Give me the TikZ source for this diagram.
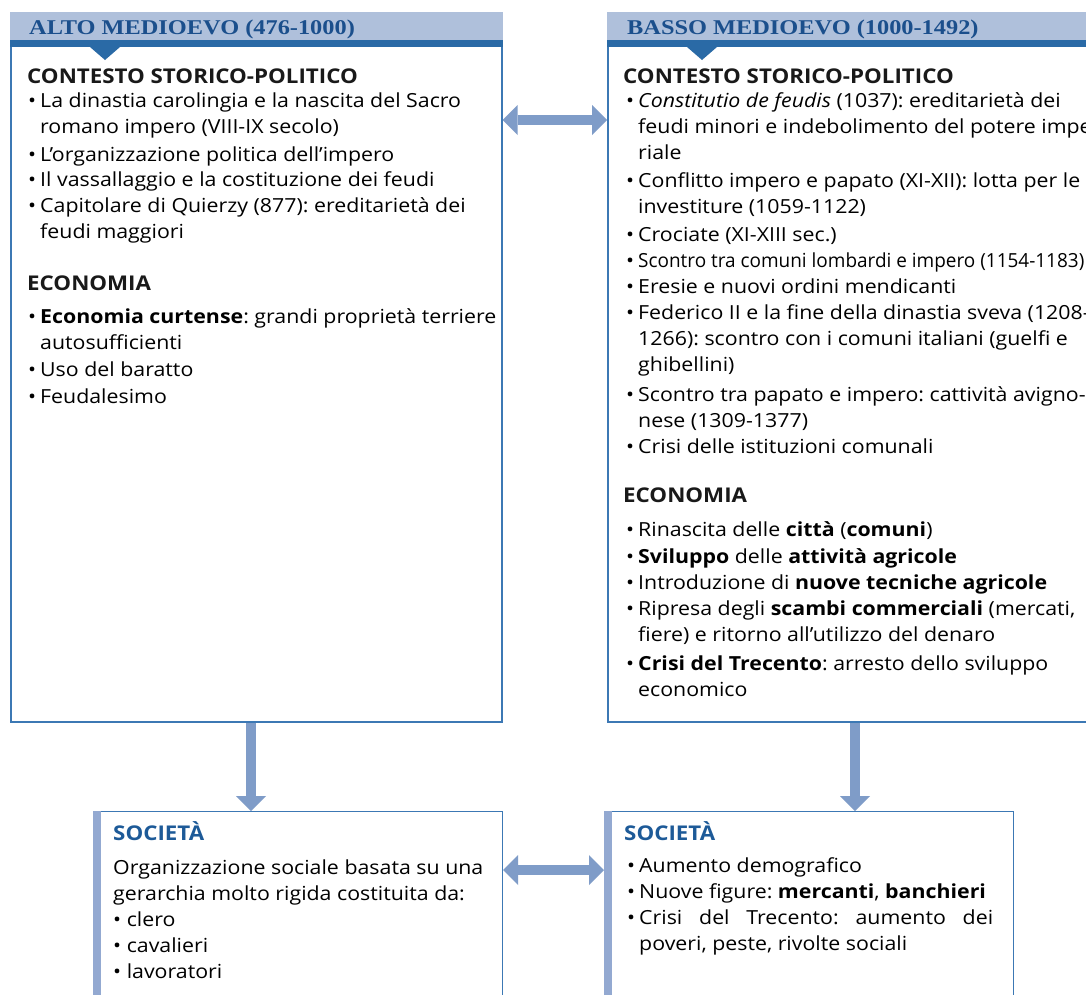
\documentclass[tikz,border=0pt]{standalone}
\usepackage{fontspec}
\setmainfont{Open Sans}[FakeStretch=1.1]
\newfontfamily\titlefont{Liberation Serif}[FakeStretch=1.16]
\usetikzlibrary{positioning, calc, arrows.meta}
\frenchspacing

\definecolor{hdrlight}{HTML}{AFC0DB}
\definecolor{hdrdark}{HTML}{2A6AA6}
\definecolor{titleblue}{HTML}{1B4F8C}
\definecolor{boxblue}{HTML}{3C78B4}
\definecolor{arrowblue}{HTML}{7F9CC8}
\definecolor{barblue}{HTML}{93A9D1}
\definecolor{socblue}{HTML}{1D5A98}

\newcommand{\corpo}{\fontsize{19.4}{26}\selectfont}
\newcommand{\voce}[2]{\parbox[t]{#1pt}{\hangindent=12pt\hangafter=1\makebox[12pt][l]{•}#2}}

\tikzset{
  box/.style={draw=boxblue, line width=1.6pt, anchor=north west, inner sep=0pt},
  socbox/.style={draw=boxblue, line width=1.2pt, anchor=north west, inner sep=0pt},
  titolo/.style={anchor=base west, inner sep=0pt, text=titleblue, font=\titlefont\bfseries\fontsize{21}{21}\selectfont},
  sezione/.style={anchor=base west, inner sep=0pt, text=black!90, font=\bfseries\fontsize{20.3}{24}\selectfont},
  soctitolo/.style={sezione, text=socblue},
  voce/.style={anchor=base west, inner sep=0pt, font=\corpo},
  bigarrow/.style={arrowblue, line width=10pt, {Triangle[length=15pt,width=30pt,line width=0pt]}-{Triangle[length=15pt,width=30pt,line width=0pt]}},
  downarrow/.style={arrowblue, line width=10pt, -{Triangle[length=15pt,width=30pt,line width=0pt]}},
}

\begin{document}
\begin{tikzpicture}[x=1pt, y=-1pt]
\useasboundingbox (0,0) rectangle (1086,994);
\fill[white] (0,0) rectangle (1086,994);
\clip (0,0) rectangle (1086,994);

% riquadri superiori
\node (alto) [box, minimum width=491pt, minimum height=709pt] at (10,12) {};
\node (basso) [box, minimum width=496pt, minimum height=709pt] at (607,12) {};
\foreach \b in {alto, basso} {
  \fill[hdrlight] (\b.north west) rectangle ($(\b.north east)+(0,28)$);
  \fill[hdrdark] ($(\b.north west)+(0,28)$) rectangle ($(\b.north east)+(0,35)$);
  \fill[hdrdark] ($(\b.north west)+(80,35)$) -- ++(30,0) -- ++(-15,13) -- cycle;
}
\node (altot) [titolo] at (29,34) {ALTO MEDIOEVO (476-1000)};
\node (bassot) [titolo] at (627,34) {BASSO MEDIOEVO (1000-1492)};

% alto medioevo
\node (acs) [sezione] at (27,83) {CONTESTO STORICO-POLITICO};
\node (a1) [voce] at (28,107) {\voce{470}{La dinastia carolingia e la nascita del Sacro\\romano impero (VIII-IX secolo)}};
\node (a2) [voce] at (28,161) {\voce{470}{L’organizzazione politica dell’impero}};
\node (a3) [voce] at (28,186) {\voce{470}{Il vassallaggio e la costituzione dei feudi}};
\node (a4) [voce] at (28,212) {\voce{470}{Capitolare di Quierzy (877): ereditarietà dei\\feudi maggiori}};
\node (aec) [sezione] at (27,290) {ECONOMIA};
\node (a5) [voce] at (28,323) {\voce{470}{\textbf{Economia curtense}: grandi proprietà terriere\\autosufficienti}};
\node (a6) [voce] at (28,376) {\voce{470}{Uso del baratto}};
\node (a7) [voce] at (28,403) {\voce{470}{Feudalesimo}};

% basso medioevo
\node (bcs) [sezione] at (623,83) {CONTESTO STORICO-POLITICO};
\node (b1) [voce] at (626,107) {\voce{540}{\textit{Constitutio de feudis} (1037): ereditarietà dei\\feudi minori e indebolimento del potere impe-\\riale}};
\node (b2) [voce] at (626,187) {\voce{540}{Conflitto impero e papato (XI-XII): lotta per le\\investiture (1059-1122)}};
\node (b3) [voce] at (626,241) {\voce{540}{Crociate (XI-XIII sec.)}};
\node (b4) [voce] at (626,267) {\voce{540}{\scalebox{0.888}[1]{Scontro tra comuni lombardi e impero (1154-1183)}}};
\node (b5) [voce] at (626,293) {\voce{540}{Eresie e nuovi ordini mendicanti}};
\node (b6) [voce] at (626,319) {\voce{540}{Federico II e la fine della dinastia sveva (1208-\\1266): scontro con i comuni italiani (guelfi e\\ghibellini)}};
\node (b7) [voce] at (626,401) {\voce{540}{Scontro tra papato e impero: cattività avigno-\\nese (1309-1377)}};
\node (b8) [voce] at (626,453) {\voce{540}{Crisi delle istituzioni comunali}};
\node (bec) [sezione] at (623,502) {ECONOMIA};
\node (b9) [voce] at (626,536) {\voce{540}{Rinascita delle \textbf{città} (\textbf{comuni})}};
\node (b10) [voce] at (626,563) {\voce{540}{\textbf{Sviluppo} delle \textbf{attività agricole}}};
\node (b11) [voce] at (626,589) {\voce{540}{Introduzione di \textbf{nuove tecniche agricole}}};
\node (b12) [voce] at (626,615) {\voce{540}{Ripresa degli \textbf{scambi commerciali} (mercati,\\fiere) e ritorno all’utilizzo del denaro}};
\node (b13) [voce] at (626,670) {\voce{540}{\textbf{Crisi del Trecento}: arresto dello sviluppo\\economico}};

% riquadri inferiori
\node (soc1) [socbox, minimum width=409pt, minimum height=200pt] at (93,811) {};
\node (soc2) [socbox, minimum width=409pt, minimum height=200pt] at (604,811) {};
\foreach \b in {soc1, soc2}
  \fill[barblue] (\b.north west) rectangle ($(\b.south west)+(8,0)$);
\node (s1t) [soctitolo] at (113,840) {SOCIETÀ};
\node (s1) [voce] at (113,874) {\parbox[t]{400pt}{Organizzazione sociale basata su una\\gerarchia molto rigida costituita da:\\• clero\\• cavalieri\\• lavoratori}};
\node (s2t) [soctitolo] at (624,840) {SOCIETÀ};
\node (s3) [voce] at (627,872) {\voce{366}{Aumento demografico}};
\node (s4) [voce] at (627,898) {\voce{366}{Nuove figure: \textbf{mercanti}, \textbf{banchieri}}};
\node (s5) [voce] at (627,924) {\voce{366}{Crisi del Trecento: aumento dei\linebreak poveri, peste, rivolte sociali}};

% frecce
\coordinate (ha) at (0,120);
\coordinate (hb) at (0,870);
\coordinate (va) at (251,0);
\coordinate (vb) at (855,0);
\draw[bigarrow] (alto.east |- ha) -- (basso.west |- ha);
\draw[bigarrow] (soc1.east |- hb) -- (soc2.west |- hb);
\draw[downarrow] (alto.south -| va) -- (soc1.north -| va);
\draw[downarrow] (basso.south -| vb) -- (soc2.north -| vb);
\end{tikzpicture}
\end{document}
